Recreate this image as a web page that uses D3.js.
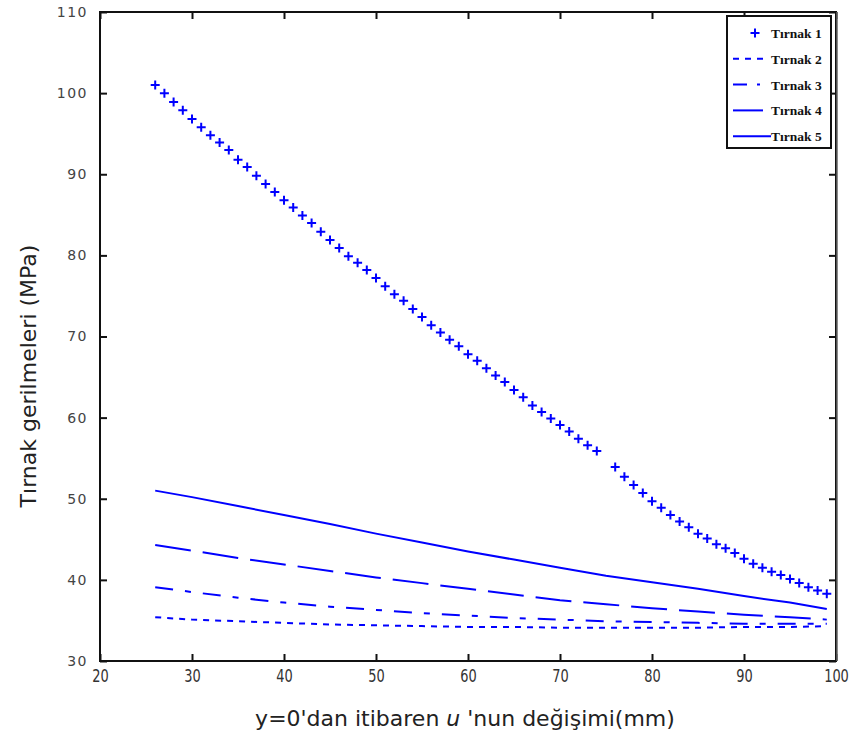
<!DOCTYPE html>
<html>
<head>
<meta charset="utf-8">
<script src="https://cdn.jsdelivr.net/npm/d3@7"></script>
<style>
  body { margin: 0; background: #fff; }
  svg { display: block; }
</style>
</head>
<body>
<svg id="chart" width="857" height="744"></svg>
<script>
// Tırnak 1 (markers only, no point at 75)
var t1X = [26,27,28,29,30,31,32,33,34,35,36,37,38,39,40,41,42,43,44,45,46,47,48,49,50,
           51,52,53,54,55,56,57,58,59,60,61,62,63,64,65,66,67,68,69,70,71,72,73,74,
           76,77,78,79,80,81,82,83,84,85,86,87,88,89,90,91,92,93,94,95,96,97,98,99]
var t1Y = [101.0,100.0,98.9,97.9,96.8,95.8,94.8,93.9,93.0,91.8,90.9,89.8,88.8,87.8,86.8,85.9,84.9,84.0,82.9,81.9,80.9,79.9,79.1,78.2,77.2,
           76.2,75.2,74.4,73.4,72.4,71.4,70.5,69.6,68.8,67.8,67.0,66.1,65.2,64.4,63.4,62.5,61.5,60.7,59.9,59.1,58.3,57.4,56.6,55.9,
           53.9,52.7,51.7,50.7,49.7,48.9,48.0,47.2,46.5,45.7,45.1,44.4,43.9,43.3,42.6,42.0,41.5,41.0,40.6,40.1,39.6,39.1,38.7,38.3]

// Tırnak 2..5 (lines)
var lineX = [26,30,35,40,45,50,55,60,65,70,75,80,85,90,95,99]
var t2Y = [35.4,35.1,34.9,34.7,34.5,34.4,34.3,34.2,34.2,34.1,34.1,34.1,34.1,34.2,34.2,34.3]
var t3Y = [39.1,38.5,37.8,37.2,36.7,36.3,35.9,35.6,35.3,35.1,34.9,34.8,34.7,34.6,34.6,34.6]
var t4Y = [44.3,43.6,42.7,41.9,41.1,40.3,39.6,38.9,38.2,37.5,37.0,36.5,36.1,35.7,35.4,35.1]
var t5Y = [51.0,50.2,49.1,48.0,46.9,45.7,44.6,43.5,42.5,41.5,40.5,39.7,38.9,38.0,37.2,36.4]

var seriesNames = ["Tırnak 1", "Tırnak 2", "Tırnak 3", "Tırnak 4", "Tırnak 5"]
var xTicks = [20,30,40,50,60,70,80,90,100]
var yTicks = [30,40,50,60,70,80,90,100,110]

var blue = "#0000ff"
var dashes = { "Tırnak 2": "6,6", "Tırnak 3": "18,12,6,12", "Tırnak 4": "36,12", "Tırnak 5": null }

var svg = d3.select("#chart")
var pL = 100, pR = 836, pT = 12, pB = 661

var x = d3.scaleLinear().domain([20, 100]).range([pL, pR])
var y = d3.scaleLinear().domain([30, 110]).range([pB, pT])

// axes, ticks pointing inward
var xAxis = svg.append("g")
    .attr("transform", "translate(0," + pB + ")")
    .call(d3.axisBottom(x).tickValues(xTicks).tickSizeInner(-7).tickSizeOuter(0).tickPadding(8))
xAxis.select(".domain").remove()
xAxis.selectAll("text")
    .style("font-family", "'DejaVu Sans', sans-serif")
    .style("font-size", "18px")
    .attr("transform", "scale(0.72,1)")
    .attr("fill", "#333")

var yAxis = svg.append("g")
    .attr("transform", "translate(" + pL + ",0)")
    .call(d3.axisLeft(y).tickValues(yTicks).tickSizeInner(-7).tickSizeOuter(0).tickPadding(12))
yAxis.select(".domain").remove()
yAxis.selectAll("text")
    .style("font-family", "'DejaVu Sans', Verdana, sans-serif")
    .style("font-size", "14px")
    .style("letter-spacing", "1.5px")
    .attr("fill", "#444")

// top and right ticks
svg.append("g").attr("transform", "translate(0," + pT + ")")
    .call(d3.axisTop(x).tickValues(xTicks).tickSizeInner(-7).tickSizeOuter(0).tickFormat(""))
    .select(".domain").remove()
svg.append("g").attr("transform", "translate(" + pR + ",0)")
    .call(d3.axisRight(y).tickValues(yTicks).tickSizeInner(-7).tickSizeOuter(0).tickFormat(""))
    .select(".domain").remove()
svg.selectAll(".tick line").attr("stroke", "#111").attr("stroke-width", 2)

// frame
svg.append("rect")
    .attr("x", pL).attr("y", pT)
    .attr("width", pR - pL).attr("height", pB - pT)
    .attr("fill", "none").attr("stroke", "#111").attr("stroke-width", 2)
svg.append("line")
    .attr("x1", pR + 1).attr("x2", pR + 1).attr("y1", pT).attr("y2", pB)
    .attr("stroke", "#666").attr("stroke-width", 1.5)

// lines
var lineGen = d3.line().x(function(d) { return x(d[0]) }).y(function(d) { return y(d[1]) })
var lineSeries = [
  { name: "Tırnak 2", values: t2Y },
  { name: "Tırnak 3", values: t3Y },
  { name: "Tırnak 4", values: t4Y },
  { name: "Tırnak 5", values: t5Y }
]
svg.selectAll("path.series")
    .data(lineSeries)
    .enter()
    .append("path")
    .attr("class", "series")
    .attr("d", function(s) { return lineGen(lineX.map(function(v, i) { return [v, s.values[i]] })) })
    .attr("fill", "none")
    .attr("stroke", blue)
    .attr("stroke-width", 2)
    .attr("stroke-dasharray", function(s) { return dashes[s.name] })

// plus markers
var plus = "M-4.5,0H4.5M0,-4.5V4.5"
svg.selectAll("path.plus")
    .data(t1X.map(function(v, i) { return [v, t1Y[i]] }))
    .enter()
    .append("path")
    .attr("class", "plus")
    .attr("transform", function(d) { return "translate(" + x(d[0]) + "," + y(d[1]) + ")" })
    .attr("d", plus)
    .attr("stroke", blue)
    .attr("stroke-width", 2)
    .attr("fill", "none")

// legend
var lg = svg.append("g")
lg.append("rect")
    .attr("x", 727).attr("y", 16).attr("width", 104).attr("height", 132)
    .attr("fill", "#fff").attr("stroke", "#111").attr("stroke-width", 2)
var rows = lg.selectAll("g.row")
    .data(seriesNames)
    .enter()
    .append("g")
    .attr("class", "row")
    .attr("transform", function(d, i) { return "translate(0," + (33 + i * 25.8) + ")" })
rows.each(function(d, i) {
  var g = d3.select(this)
  if (i == 0) {
    g.append("path").attr("transform", "translate(755,0)").attr("d", plus)
        .attr("stroke", blue).attr("stroke-width", 2)
  } else {
    g.append("line")
        .attr("x1", 733).attr("x2", i == 4 ? 771 : 763)
        .attr("y1", 0).attr("y2", 0)
        .attr("stroke", blue).attr("stroke-width", 2)
        .attr("stroke-dasharray", i == 1 ? "6,6" : i == 2 ? "14,10,3,10" : null)
  }
})
rows.append("text")
    .attr("x", 771).attr("y", 5)
    .style("font-family", "'Liberation Serif', 'DejaVu Serif', serif")
    .style("font-weight", "bold")
    .style("font-size", "13.5px")
    .attr("fill", "#111")
    .text(function(d) { return d })

// axis titles
svg.append("text")
    .attr("transform", "translate(36,376) rotate(-90)")
    .attr("text-anchor", "middle")
    .style("font-family", "'DejaVu Sans', Verdana, sans-serif")
    .style("font-size", "22px")
    .attr("fill", "#222")
    .text("Tırnak gerilmeleri (MPa)")

var xt = svg.append("text")
    .attr("x", 465).attr("y", 726)
    .attr("text-anchor", "middle")
    .style("font-family", "'DejaVu Sans', Verdana, sans-serif")
    .style("font-size", "22px")
    .attr("fill", "#222")
xt.append("tspan").text("y=0'dan itibaren ")
xt.append("tspan").style("font-style", "italic").text("u")
xt.append("tspan").text(" 'nun değişimi(mm)")
</script>
</body>
</html>
